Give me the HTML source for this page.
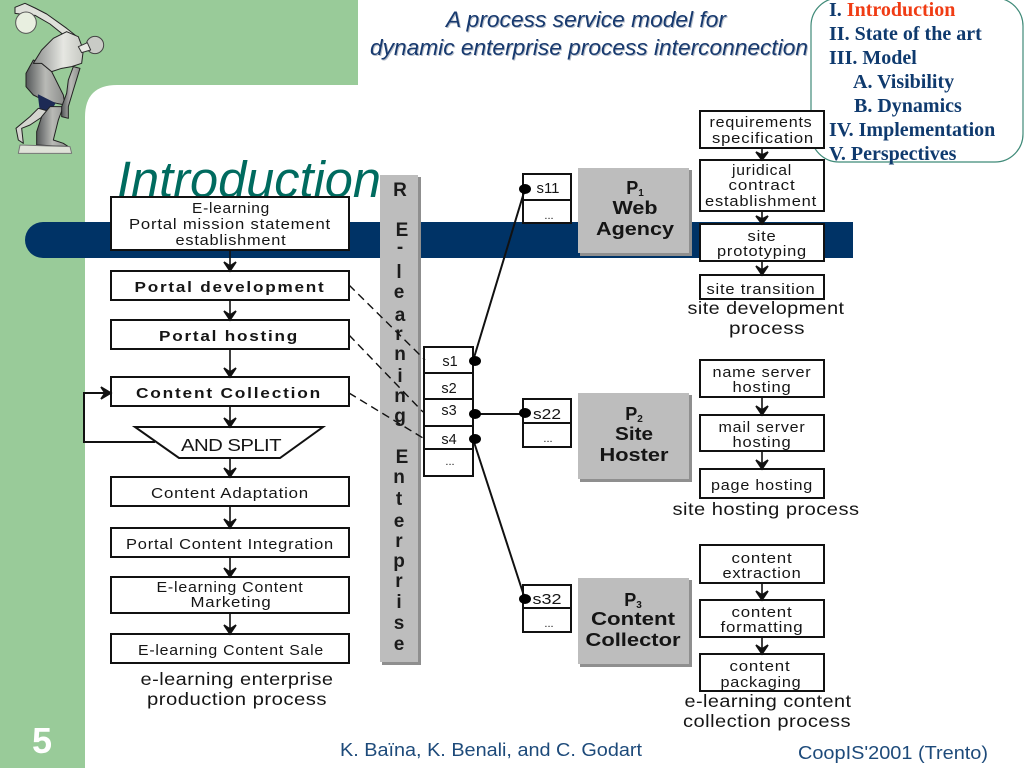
<!DOCTYPE html>
<html><head><meta charset="utf-8"><title>Introduction</title>
<style>
html,body{margin:0;padding:0;background:#fff;width:1024px;height:768px;overflow:hidden}
svg{display:block}
text{font-family:"Liberation Sans",sans-serif;fill:#151515}
.t{font-size:14.5px;text-anchor:middle;letter-spacing:.7px}
.b{font-size:14.5px;font-weight:bold;text-anchor:middle;letter-spacing:1.5px}
.c{font-size:17.5px;text-anchor:middle;letter-spacing:.4px}
.p{font-size:18px;font-weight:bold;text-anchor:middle}
.l{font-size:19px;font-weight:bold;text-anchor:middle;fill:#1c1c1c}
.s{font-size:14.5px;text-anchor:middle}
.box rect{fill:#fff;stroke:#111;stroke-width:2}
.toc text{font-family:"Liberation Serif",serif;font-size:20px;font-weight:bold;fill:#0f3a6e}
.ar{fill:#111;stroke:#111;stroke-width:1.6}
</style></head><body>
<svg width="1024" height="768" viewBox="0 0 1024 768" xmlns="http://www.w3.org/2000/svg">
<defs>
<linearGradient id="g1" x1="0" x2="1" y1="0" y2="0"><stop offset="0" stop-color="#55585a"/><stop offset=".5" stop-color="#b9bab6"/><stop offset="1" stop-color="#8a8c8a"/></linearGradient>
<linearGradient id="g2" x1="0" x2="1" y1="0" y2="0"><stop offset="0" stop-color="#8b8d8c"/><stop offset=".6" stop-color="#e6e7e2"/><stop offset="1" stop-color="#c6c8c2"/></linearGradient>
</defs>
<!-- background -->
<path d="M0 0H358V85H117Q85 85 85 117V768H0Z" fill="#99cb99"/>
<path d="M43 222H853V258H43A18 18 0 0 1 43 222Z" fill="#003366"/>

<!-- statue -->
<g transform="scale(.3333)" stroke="#222" stroke-width="3" stroke-linejoin="round">
<path d="M45 22L75 10L105 24L140 42L200 85L225 105L235 130L200 112L150 72L105 46L60 42L45 40Z" fill="#dfe1da"/>
<ellipse cx="78" cy="68" rx="31" ry="32" fill="#e8efe0" stroke="#555"/>
<path d="M100 180L78 220L78 260L100 285L130 300L170 310L195 315L190 285L155 215L125 190Z" fill="url(#g1)"/>
<path d="M200 95L235 110L250 150L245 190L215 200L185 205L155 215L125 190L100 190L125 150L160 115Z" fill="url(#g2)"/>
<circle cx="285" cy="135" r="26" fill="#c9cbc6" stroke="#444"/>
<path d="M235 140L262 128L272 150L245 158Z" fill="#e9e9e4" stroke="#333"/>
<path d="M115 285L165 310L150 335L120 325Z" fill="#1d2a55" stroke="#1d2a55"/>
<path d="M115 325L150 335L135 345L90 375L65 385L70 430L55 420L48 385L90 350Z" fill="#d4d5cf"/>
<path d="M150 320L190 320L175 360L160 420L190 430L205 440L110 435L110 395L125 350Z" fill="url(#g1)"/>
<path d="M220 200L240 205L220 270L205 320L205 355L185 350L185 320L200 280L205 240Z" fill="url(#g1)"/>
<path d="M60 435L210 440L215 460L55 460Z" fill="#dfe2d8" stroke="#777"/>
</g>

<!-- titles -->
<text x="447" y="28" textLength="280" lengthAdjust="spacingAndGlyphs" style="fill:#b4bcc8;font-style:italic;font-size:22px">A process service model for</text>
<text x="371" y="56" textLength="438" lengthAdjust="spacingAndGlyphs" style="fill:#b4bcc8;font-style:italic;font-size:22px">dynamic enterprise process interconnection</text>
<text x="446" y="27" textLength="280" lengthAdjust="spacingAndGlyphs" style="fill:#17396e;font-style:italic;font-size:22px">A process service model for</text>
<text x="370" y="55" textLength="438" lengthAdjust="spacingAndGlyphs" style="fill:#17396e;font-style:italic;font-size:22px">dynamic enterprise process interconnection</text>
<text x="117" y="197" textLength="264" lengthAdjust="spacingAndGlyphs" style="fill:#006b5f;font-style:italic;font-size:51px">Introduction</text>

<!-- TOC -->
<rect x="811" y="-2" width="212" height="164" rx="28" fill="#fff" stroke="#3f8a78" stroke-width="1.2"/>
<g class="toc">
<text x="829" y="16">I. <tspan style="fill:#f03c14">Introduction</tspan></text>
<text x="829" y="40">II. State of the art</text>
<text x="829" y="64">III. Model</text>
<text x="853" y="88">A. Visibility</text>
<text x="854" y="112">B. Dynamics</text>
<text x="829" y="136">IV. Implementation</text>
<text x="829" y="160">V. Perspectives</text>
</g>

<!-- gray bars -->
<rect x="382" y="177" width="39" height="488" fill="#8f8f8f"/>
<rect x="380" y="175" width="38" height="487" fill="#bdbdbd"/>
<g><rect x="580" y="170" width="112" height="86" fill="#8f8f8f"/><rect x="578" y="168" width="111" height="85" fill="#bdbdbd"/>
<rect x="580" y="395" width="112" height="87" fill="#8f8f8f"/><rect x="578" y="393" width="111" height="86" fill="#bdbdbd"/>
<rect x="580" y="580" width="112" height="87" fill="#8f8f8f"/><rect x="578" y="578" width="111" height="86" fill="#bdbdbd"/></g>
<text class="l" x="400" y="196">R</text><text class="l" x="402" y="236">E</text><text class="l" x="400" y="253">-</text>
<text class="l" x="399" y="278">l</text><text class="l" x="399" y="298">e</text><text class="l" x="400" y="321">a</text>
<text class="l" x="399" y="340">r</text><text class="l" x="400" y="360">n</text><text class="l" x="400" y="382">i</text>
<text class="l" x="400" y="402">n</text><text class="l" x="400" y="422">g</text><text class="l" x="402" y="463">E</text>
<text class="l" x="399" y="483">n</text><text class="l" x="399" y="505">t</text><text class="l" x="399" y="527">e</text>
<text class="l" x="399" y="547">r</text><text class="l" x="399" y="567">p</text><text class="l" x="399" y="587">r</text>
<text class="l" x="399" y="608">i</text><text class="l" x="399" y="629">s</text><text class="l" x="399" y="650">e</text>
<text class="p" x="635" y="194">P<tspan font-size="10" dy="2">1</tspan></text>
<text class="p" x="635" y="214" textLength="45" lengthAdjust="spacingAndGlyphs">Web</text>
<text class="p" x="635" y="235" textLength="78" lengthAdjust="spacingAndGlyphs">Agency</text>
<text class="p" x="634" y="420">P<tspan font-size="10" dy="2">2</tspan></text>
<text class="p" x="634" y="440" textLength="38" lengthAdjust="spacingAndGlyphs">Site</text>
<text class="p" x="634" y="461" textLength="69" lengthAdjust="spacingAndGlyphs">Hoster</text>
<text class="p" x="633" y="606">P<tspan font-size="10" dy="2">3</tspan></text>
<text class="p" x="633" y="625" textLength="84" lengthAdjust="spacingAndGlyphs">Content</text>
<text class="p" x="633" y="646" textLength="95" lengthAdjust="spacingAndGlyphs">Collector</text>

<!-- left boxes -->
<g class="box">
<rect x="111" y="197" width="238" height="53"/><rect x="111" y="271" width="238" height="29"/>
<rect x="111" y="320" width="238" height="29"/><rect x="111" y="377" width="238" height="29"/>
<rect x="111" y="477" width="238" height="29"/><rect x="111" y="528" width="238" height="29"/>
<rect x="111" y="577" width="238" height="36"/><rect x="111" y="634" width="238" height="29"/>
</g>
<path d="M135 427H323L280 458H179Z" fill="#fff" stroke="#111" stroke-width="2"/>
<text class="t" x="231" y="213" textLength="78" lengthAdjust="spacingAndGlyphs">E-learning</text>
<text class="t" x="230" y="229" textLength="202" lengthAdjust="spacingAndGlyphs">Portal mission statement</text>
<text class="t" x="231" y="245" textLength="111" lengthAdjust="spacingAndGlyphs">establishment</text>
<text class="b" x="230" y="292" textLength="191" lengthAdjust="spacingAndGlyphs">Portal development</text>
<text class="b" x="229" y="341" textLength="140" lengthAdjust="spacingAndGlyphs">Portal hosting</text>
<text class="b" x="229" y="398" textLength="186" lengthAdjust="spacingAndGlyphs">Content Collection</text>
<text class="c" x="231" y="451" textLength="100" lengthAdjust="spacingAndGlyphs" style="letter-spacing:-.5px">AND SPLIT</text>
<text class="t" x="230" y="498" textLength="158" lengthAdjust="spacingAndGlyphs">Content Adaptation</text>
<text class="t" x="230" y="549" textLength="208" lengthAdjust="spacingAndGlyphs">Portal Content Integration</text>
<text class="t" x="230" y="592" textLength="147" lengthAdjust="spacingAndGlyphs">E-learning Content</text>
<text class="t" x="231" y="607" textLength="81" lengthAdjust="spacingAndGlyphs">Marketing</text>
<text class="t" x="231" y="655" textLength="186" lengthAdjust="spacingAndGlyphs">E-learning Content Sale</text>
<text class="c" x="237" y="685" textLength="193" lengthAdjust="spacingAndGlyphs">e-learning enterprise</text>
<text class="c" x="237" y="705" textLength="180" lengthAdjust="spacingAndGlyphs">production process</text>

<!-- left arrows -->
<g class="ar">
<path d="M230 250V271M224 262L230 271L236 262L230 266Z"/>
<path d="M230 300V320M224 311L230 320L236 311L230 315Z"/>
<path d="M230 349V377M224 368L230 377L236 368L230 372Z"/>
<path d="M230 406V427M224 418L230 427L236 418L230 422Z"/>
<path d="M230 458V477M224 468L230 477L236 468L230 472Z"/>
<path d="M230 506V528M224 519L230 528L236 519L230 523Z"/>
<path d="M230 557V577M224 568L230 577L236 568L230 572Z"/>
<path d="M230 613V634M224 625L230 634L236 625L230 629Z"/>
<path d="M155 442H84V393H111" fill="none" stroke-width="2"/>
<path d="M101 387L111 393L101 399L105 393Z"/>
</g>

<!-- service boxes -->
<g class="box">
<rect x="424" y="347" width="49" height="26"/><rect x="424" y="373" width="49" height="26"/>
<rect x="424" y="399" width="49" height="27"/><rect x="424" y="426" width="49" height="23"/>
<rect x="424" y="449" width="49" height="27"/>
<rect x="523" y="174" width="48" height="26"/><rect x="523" y="200" width="48" height="23"/>
<rect x="523" y="399" width="48" height="24"/><rect x="523" y="423" width="48" height="24"/>
<rect x="523" y="585" width="48" height="23"/><rect x="523" y="608" width="48" height="24"/>
</g>
<text class="s" x="450" y="366">s1</text><text class="s" x="449" y="393">s2</text>
<text class="s" x="449" y="415">s3</text><text class="s" x="449" y="444">s4</text>
<text class="s" x="450" y="465" style="font-size:11px">...</text>
<text class="s" x="548" y="193" textLength="23" lengthAdjust="spacingAndGlyphs">s11</text><text class="s" x="549" y="219" style="font-size:11px">...</text>
<text class="s" x="547" y="419" textLength="28" lengthAdjust="spacingAndGlyphs">s22</text><text class="s" x="548" y="442" style="font-size:11px">...</text>
<text class="s" x="547" y="604" textLength="29" lengthAdjust="spacingAndGlyphs">s32</text><text class="s" x="549" y="627" style="font-size:11px">...</text>

<!-- connectors -->
<path d="M473 361L525 189M473 414H525M473 439L525 599" stroke="#111" stroke-width="2" fill="none"/>
<path d="M349 285L425 360M349 335L423 412M349 393L423 438" stroke="#111" stroke-width="1.4" stroke-dasharray="8 5" fill="none"/>
<g fill="#000">
<ellipse cx="475" cy="361" rx="6" ry="5"/><ellipse cx="475" cy="414" rx="6" ry="5"/><ellipse cx="475" cy="439" rx="6" ry="5"/>
<ellipse cx="525" cy="189" rx="6" ry="5"/><ellipse cx="525" cy="413" rx="6" ry="5"/><ellipse cx="525" cy="599" rx="6" ry="5"/>
</g>

<!-- right boxes -->
<g class="box">
<rect x="700" y="111" width="124" height="37"/><rect x="700" y="160" width="124" height="51"/>
<rect x="700" y="224" width="124" height="37"/><rect x="700" y="275" width="124" height="24"/>
<rect x="700" y="360" width="124" height="37"/><rect x="700" y="415" width="124" height="36"/>
<rect x="700" y="469" width="124" height="29"/>
<rect x="700" y="545" width="124" height="38"/><rect x="700" y="600" width="124" height="37"/>
<rect x="700" y="654" width="124" height="37"/>
</g>
<text class="t" x="761" y="127" textLength="103" lengthAdjust="spacingAndGlyphs">requirements</text>
<text class="t" x="763" y="143" textLength="102" lengthAdjust="spacingAndGlyphs">specification</text>
<text class="t" x="762" y="175" textLength="60" lengthAdjust="spacingAndGlyphs">juridical</text>
<text class="t" x="762" y="190" textLength="67" lengthAdjust="spacingAndGlyphs">contract</text>
<text class="t" x="761" y="206" textLength="112" lengthAdjust="spacingAndGlyphs">establishment</text>
<text class="t" x="762" y="241" textLength="29" lengthAdjust="spacingAndGlyphs">site</text>
<text class="t" x="762" y="256" textLength="90" lengthAdjust="spacingAndGlyphs">prototyping</text>
<text class="t" x="761" y="294" textLength="109" lengthAdjust="spacingAndGlyphs">site transition</text>
<text class="c" x="766" y="314" textLength="157" lengthAdjust="spacingAndGlyphs">site development</text>
<text class="c" x="767" y="334" textLength="76" lengthAdjust="spacingAndGlyphs">process</text>
<text class="t" x="762" y="377" textLength="99" lengthAdjust="spacingAndGlyphs">name server</text>
<text class="t" x="762" y="392" textLength="59" lengthAdjust="spacingAndGlyphs">hosting</text>
<text class="t" x="762" y="432" textLength="87" lengthAdjust="spacingAndGlyphs">mail server</text>
<text class="t" x="762" y="447" textLength="59" lengthAdjust="spacingAndGlyphs">hosting</text>
<text class="t" x="762" y="490" textLength="102" lengthAdjust="spacingAndGlyphs">page hosting</text>
<text class="c" x="766" y="515" textLength="187" lengthAdjust="spacingAndGlyphs">site hosting process</text>
<text class="t" x="762" y="563" textLength="61" lengthAdjust="spacingAndGlyphs">content</text>
<text class="t" x="762" y="578" textLength="79" lengthAdjust="spacingAndGlyphs">extraction</text>
<text class="t" x="762" y="617" textLength="61" lengthAdjust="spacingAndGlyphs">content</text>
<text class="t" x="762" y="632" textLength="83" lengthAdjust="spacingAndGlyphs">formatting</text>
<text class="t" x="760" y="671" textLength="61" lengthAdjust="spacingAndGlyphs">content</text>
<text class="t" x="761" y="687" textLength="81" lengthAdjust="spacingAndGlyphs">packaging</text>
<text class="c" x="768" y="707" textLength="167" lengthAdjust="spacingAndGlyphs">e-learning content</text>
<text class="c" x="767" y="727" textLength="168" lengthAdjust="spacingAndGlyphs">collection process</text>
<g class="ar">
<path d="M762 148V160M756 152L762 160L768 152L762 155Z"/>
<path d="M762 211V224M756 216L762 224L768 216L762 219Z"/>
<path d="M762 261V275M756 266L762 275L768 266L762 270Z"/>
<path d="M762 397V415M756 406L762 415L768 406L762 410Z"/>
<path d="M762 451V469M756 460L762 469L768 460L762 464Z"/>
<path d="M762 583V600M756 591L762 600L768 591L762 595Z"/>
<path d="M762 637V654M756 645L762 654L768 645L762 649Z"/>
</g>

<!-- footer -->
<text x="340" y="756" textLength="302" lengthAdjust="spacingAndGlyphs" style="fill:#1d4a7a;font-size:18px">K. Baïna, K. Benali, and C. Godart</text>
<text x="798" y="759" textLength="190" lengthAdjust="spacingAndGlyphs" style="fill:#1d4a7a;font-size:18px">CoopIS'2001 (Trento)</text>
<text x="32" y="753" style="fill:#fff;font-size:36px;font-weight:bold">5</text>
</svg>
</body></html>
